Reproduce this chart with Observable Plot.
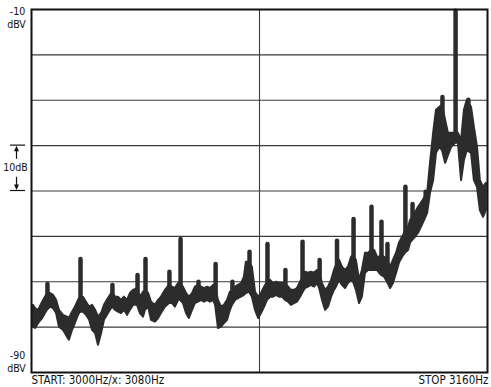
<!DOCTYPE html>
<html>
<head>
<meta charset="utf-8">
<script src="https://cdn.jsdelivr.net/npm/d3@7"></script>
<script src="https://cdn.jsdelivr.net/npm/@observablehq/plot@0.6"></script>
<style>
  html, body { margin: 0; padding: 0; background: #fff; }
  #chart svg { display: block; }
</style>
</head>
<body>
<div id="chart"></div>
<script>
// Frequency axis (Hz) and band envelope (dBV)
const freqHz = [3000.7,3001.4,3002.5,3003.9,3004.9,3005.6,3006.7,3007.7,3008.8,3009.8,3011.2,3012.6,3013.3,3014.4,3015.4,3016.5,3017.2,3018.2,3019.3,3020.4,3021.4,3022.5,3023.5,3024.6,3025.6,3027.0,3028.4,3029.5,3030.5,3031.6,3032.6,3033.7,3034.7,3035.8,3037.2,3038.2,3039.3,3040.0,3041.1,3042.1,3043.5,3044.6,3045.6,3047.0,3048.4,3049.5,3050.5,3051.6,3052.3,3053.3,3054.4,3055.4,3056.5,3057.5,3058.6,3059.7,3060.7,3061.8,3062.8,3063.9,3064.6,3065.6,3066.7,3067.7,3068.8,3069.8,3070.5,3071.6,3072.6,3073.7,3074.7,3075.4,3076.5,3077.5,3078.6,3079.7,3080.7,3081.8,3082.8,3083.9,3084.9,3086.0,3087.0,3088.1,3089.1,3090.2,3091.2,3092.3,3093.3,3094.4,3095.1,3096.1,3097.2,3098.2,3099.3,3100.4,3101.1,3102.1,3103.2,3104.2,3105.3,3106.3,3107.0,3108.1,3109.1,3110.2,3111.2,3112.3,3113.0,3114.0,3115.1,3116.1,3117.2,3118.3,3119.3,3120.4,3121.4,3122.1,3122.8,3123.9,3124.9,3126.0,3127.0,3128.1,3129.1,3130.2,3131.2,3132.3,3133.0,3133.7,3134.7,3135.8,3136.8,3137.9,3139.0,3140.0,3141.1,3142.1,3143.2,3144.2,3145.3,3146.3,3147.4,3148.8,3149.8,3150.9,3151.9,3152.9,3154.4,3155.4,3156.5,3157.5,3158.6,3159.6];
const upperDbv = [-75.2,-75.9,-76.3,-74.5,-73.4,-72.6,-72.6,-73.0,-74.1,-76.3,-77.4,-77.8,-78.1,-76.7,-75.6,-74.1,-73.4,-73.4,-74.5,-75.6,-75.2,-76.3,-77.8,-77.0,-75.2,-73.7,-72.3,-73.4,-73.4,-74.1,-73.4,-74.1,-72.6,-71.9,-71.5,-73.4,-72.3,-71.9,-72.6,-74.5,-75.2,-74.1,-73.4,-71.9,-70.8,-71.2,-71.5,-70.4,-70.4,-71.2,-72.6,-73.4,-72.6,-71.2,-70.8,-71.2,-71.5,-71.2,-71.5,-70.8,-71.2,-74.1,-75.6,-75.2,-74.1,-72.3,-71.9,-71.2,-70.8,-70.4,-69.0,-65.7,-65.7,-66.8,-72.3,-73.4,-72.6,-71.2,-70.1,-69.7,-70.4,-70.1,-70.4,-70.4,-70.4,-71.2,-71.9,-71.9,-71.5,-70.1,-69.3,-67.9,-68.1,-67.9,-68.1,-67.5,-67.9,-70.4,-71.9,-71.2,-69.7,-67.5,-66.4,-65.3,-66.8,-67.5,-66.8,-64.6,-64.2,-65.3,-69.7,-67.5,-63.7,-63.7,-63.1,-63.1,-64.6,-64.6,-64.2,-64.6,-65.3,-66.8,-65.3,-63.7,-61.5,-60.2,-59.1,-58.0,-56.5,-55.8,-54.9,-53.6,-52.7,-51.6,-50.5,-43.9,-37.3,-32.2,-31.6,-31.1,-34.4,-37.3,-37.3,-37.3,-37.3,-38.9,-32.2,-30.0,-31.6,-36.0,-40.4,-47.7,-49.2,-48.3];
const lowerDbv = [-80.0,-80.3,-79.2,-78.1,-77.0,-76.3,-75.6,-75.9,-77.0,-80.0,-80.7,-82.2,-82.9,-80.7,-79.2,-77.4,-76.7,-76.7,-77.4,-78.5,-80.7,-81.4,-84.0,-81.4,-78.5,-77.0,-75.6,-76.3,-76.7,-77.0,-76.3,-77.4,-76.3,-75.2,-75.2,-77.0,-77.8,-76.3,-75.6,-78.5,-78.9,-78.1,-77.0,-75.6,-74.8,-74.8,-75.6,-74.1,-74.1,-74.8,-77.0,-78.1,-76.3,-74.8,-74.5,-74.1,-74.5,-74.1,-74.5,-74.1,-75.2,-80.3,-80.0,-79.2,-78.5,-76.3,-75.2,-74.1,-73.7,-73.4,-73.0,-72.6,-72.3,-73.4,-76.3,-78.1,-77.0,-75.6,-74.1,-73.4,-73.4,-73.0,-73.4,-73.4,-74.1,-74.5,-75.2,-74.8,-74.5,-73.4,-72.6,-71.5,-71.2,-70.8,-71.2,-70.4,-71.5,-74.1,-76.3,-75.6,-73.4,-71.9,-71.2,-69.7,-70.8,-71.5,-70.4,-69.7,-70.1,-71.9,-74.8,-73.4,-68.1,-67.5,-67.5,-67.5,-67.5,-68.1,-68.6,-69.0,-70.1,-71.5,-70.4,-68.1,-65.9,-64.6,-63.7,-63.1,-61.5,-60.9,-60.2,-59.3,-58.0,-56.5,-54.9,-50.5,-47.7,-41.7,-40.4,-41.1,-43.9,-42.2,-40.4,-39.5,-39.5,-47.7,-43.3,-41.1,-41.7,-47.7,-49.2,-54.3,-55.8,-54.3];

// Narrow spectral lines rising above the noise band
const spikeHz = [3005.6,3017.2,3028.4,3037.2,3040.0,3048.4,3052.3,3058.6,3064.6,3070.5,3076.5,3082.8,3089.1,3095.1,3101.1,3107.2,3113.0,3119.3,3122.8,3124.9,3131.2,3133.7,3138.3,3144.2,3148.8,3153.3];
const spikeTopDbv = [-70.6,-65.1,-70.8,-68.6,-65.1,-67.9,-60.7,-70.1,-66.2,-70.1,-63.5,-61.8,-67.5,-61.3,-65.3,-61.1,-56.3,-53.6,-56.9,-61.8,-49.2,-53.0,-50.3,-29.4,-10.4,-30.0];
const spikeBaseDbv = [-74.1,-74.1,-74.1,-73.4,-74.1,-73.0,-73.0,-73.0,-73.0,-73.4,-69.7,-71.9,-71.9,-70.8,-69.7,-69.7,-67.5,-65.3,-66.4,-67.5,-60.9,-58.7,-54.3,-36.7,-38.9,-36.7];

// Graticule
const gridDbv = [-20, -30, -40, -50, -60, -70, -80];
const centerHz = [3080];
const xDomain = [3000, 3160];
const yDomain = [-90, -10];

// Texts
const topValue = "-10";
const bottomValue = "-90";
const unitLabel = "dBV";
const scaleLabel = "10dB";
const startLabel = "START: 3000Hz/x: 3080Hz";
const stopLabel = "STOP 3160Hz";
const scaleBarDbv = [-40, -50];

const ink = "#2c2c2c";
const font = "'Liberation Sans Narrow', 'DejaVu Sans Condensed', 'Liberation Sans', sans-serif";

const band = freqHz.map((f, i) => ({f, hi: upperDbv[i], lo: lowerDbv[i]}));
const spikes = spikeHz.map((f, i) => ({f, top: spikeTopDbv[i], base: spikeBaseDbv[i]}));

const labelStyle = {textAnchor: "middle", fontSize: 10.5, fill: "#111", lineAnchor: "bottom"};

const plot = Plot.plot({
  width: 491,
  height: 387,
  marginLeft: 31,
  marginRight: 4,
  marginTop: 9,
  marginBottom: 15,
  x: {domain: xDomain, axis: null},
  y: {domain: yDomain, axis: null},
  style: {background: "#fff", fontFamily: font, overflow: "visible"},
  marks: [
    Plot.ruleY(gridDbv, {stroke: "#3a3a3a", strokeWidth: 1.1}),
    Plot.ruleX(centerHz, {stroke: "#3a3a3a", strokeWidth: 1.1}),
    Plot.areaY(band, {x: "f", y1: "lo", y2: "hi", fill: ink, stroke: ink, strokeWidth: 2, strokeLinejoin: "round"}),
    Plot.ruleX(spikes, {x: "f", y1: "base", y2: "top", stroke: ink, strokeWidth: 4.5, strokeLinecap: "round"}),
    Plot.frame({stroke: "#111", strokeWidth: 2}),
    Plot.text([topValue], {...labelStyle, frameAnchor: "top-left", dx: -14, dy: 5}),
    Plot.text([unitLabel], {...labelStyle, frameAnchor: "top-left", dx: -15, dy: 18}),
    Plot.text([bottomValue], {...labelStyle, frameAnchor: "bottom-left", dx: -14, dy: -14}),
    Plot.text([unitLabel], {...labelStyle, frameAnchor: "bottom-left", dx: -15, dy: -1}),
    Plot.text([startLabel], {frameAnchor: "bottom-left", dx: 0, dy: 3, textAnchor: "start", lineAnchor: "top", fontSize: 11.5, fill: "#111"}),
    Plot.text([stopLabel], {frameAnchor: "bottom-right", dx: 1, dy: 3, textAnchor: "end", lineAnchor: "top", fontSize: 11.5, fill: "#111"})
  ]
});

document.getElementById("chart").appendChild(plot);

// 10 dB scale marker in the left margin, placed with the plot's y scale
const ys = plot.scale("y");
const svg = d3.select(plot);
const cx = 16.5;
const yTop = ys.apply(scaleBarDbv[0]);
const yBot = ys.apply(scaleBarDbv[1]);
const yMid = ys.apply((scaleBarDbv[0] + scaleBarDbv[1]) / 2);
const g = svg.append("g").attr("stroke", "#111").attr("fill", "#111");
g.append("line").attr("x1", 10).attr("x2", 25).attr("y1", yTop).attr("y2", yTop).attr("stroke-width", 1.2);
g.append("line").attr("x1", 10).attr("x2", 25).attr("y1", yBot).attr("y2", yBot).attr("stroke-width", 1.2);
g.append("line").attr("x1", cx).attr("x2", cx).attr("y1", yTop + 3).attr("y2", yMid - 9).attr("stroke-width", 1.2);
g.append("line").attr("x1", cx).attr("x2", cx).attr("y1", yMid + 9).attr("y2", yBot - 3).attr("stroke-width", 1.2);
g.append("path").attr("stroke", "none").attr("d", `M${cx},${yTop + 0.5}L${cx - 2.5},${yTop + 6}L${cx + 2.5},${yTop + 6}Z`);
g.append("path").attr("stroke", "none").attr("d", `M${cx},${yBot - 0.5}L${cx - 2.5},${yBot - 6}L${cx + 2.5},${yBot - 6}Z`);
svg.append("text").attr("x", cx - 1).attr("y", yMid).attr("dy", "0.35em").attr("text-anchor", "middle")
  .attr("font-size", 10.5).attr("font-family", font).attr("fill", "#111").text(scaleLabel);
</script>
</body>
</html>
